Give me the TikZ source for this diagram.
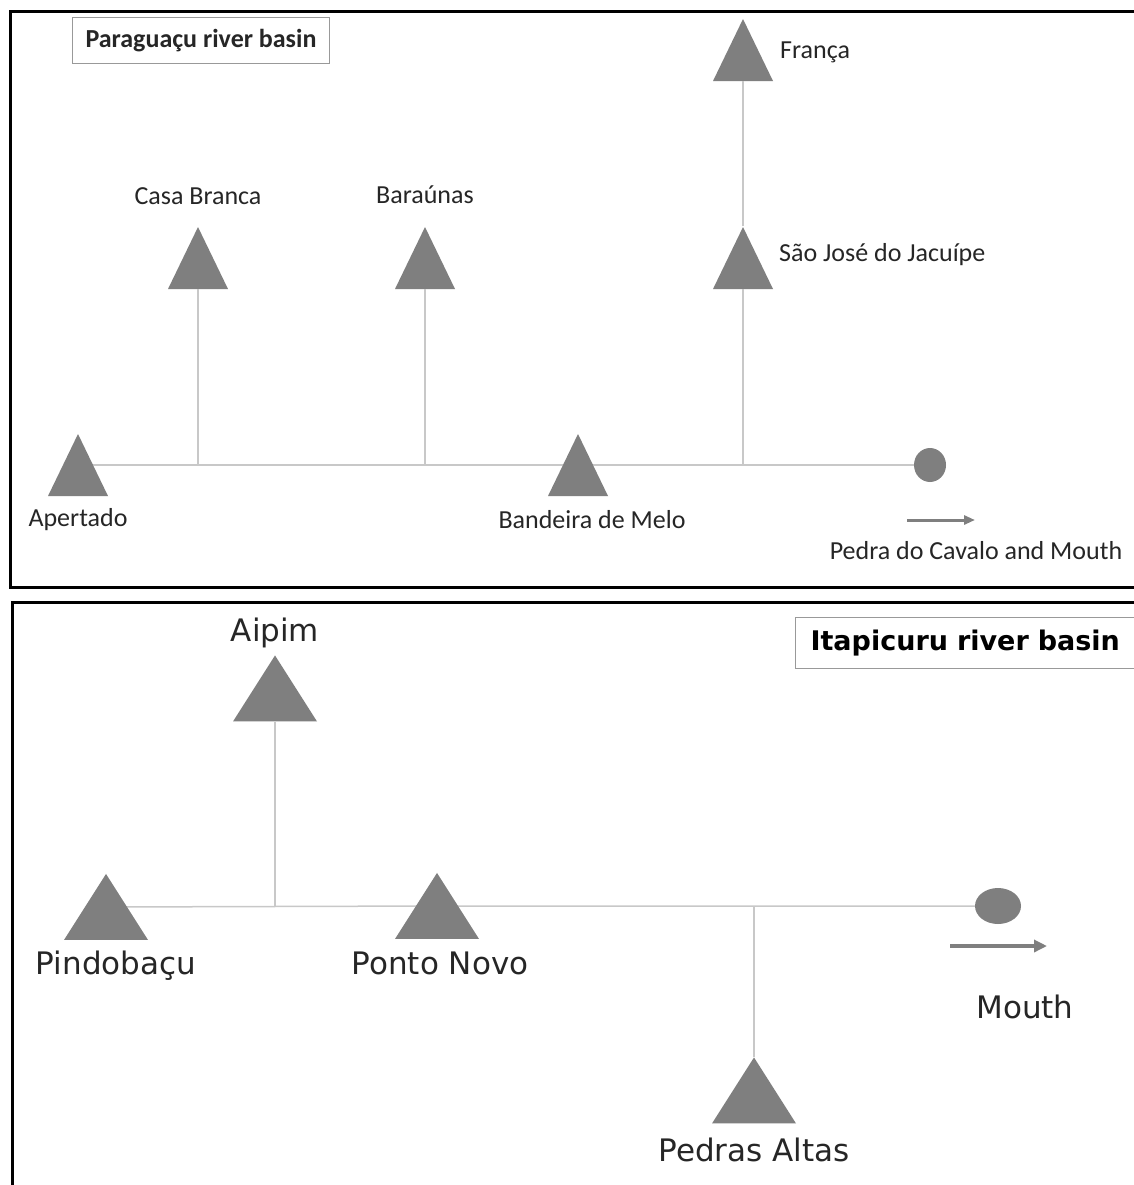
\documentclass[tikz,border=0pt]{standalone}
\usepackage{fontspec}
\setmainfont{Carlito}
\newfontfamily\largefont{DejaVu Sans}
\usetikzlibrary{shapes.geometric,arrows.meta,backgrounds}
\definecolor{gris}{RGB}{127,127,127}
\definecolor{grisclair}{RGB}{200,200,200}

\begin{document}
\begin{tikzpicture}[x=1pt,y=-1pt]
\tikzset{station/.style={isosceles triangle, isosceles triangle stretches, shape border rotate=90, fill=gris, inner sep=0, minimum width=60, minimum height=62},
grandestation/.style={station, minimum width=84, minimum height=66},
exutoire/.style={ellipse, fill=gris, inner sep=0},
riviere/.style={draw=grisclair, line width=1.5},
cadre/.style={draw=black, line width=3},
texte/.style={inner sep=0, text=black!85, font=\fontsize{26}{30}\selectfont},
grandtexte/.style={inner sep=0, text=black!85, font=\largefont\fontsize{31}{36}\selectfont},
titre/.style={draw=gris!80, line width=1, fill=white}}
\clip (0,0) rectangle (1134,1185);
% Paraguacu
\draw[cadre] (1150,12) -- (10,12) -- (10,587) -- (1150,587);
\node[titre, texte, minimum width=257, minimum height=46] (titreP) at (201,41) {\bfseries Paraguaçu river basin};
% the center of a triangle is 12.2 below the middle of its height
\node[station] (apertado) at (78,477.2) {};
\node[station] (bandeira) at (578,477.2) {};
\node[station] (casa) at (198,270.2) {};
\node[station] (baraunas) at (425,270.2) {};
\node[station] (saojose) at (743,270.2) {};
\node[station] (franca) at (743,62.2) {};
\node[exutoire, minimum width=32, minimum height=34] (mouthP) at (930,465) {};
\coordinate (jCasa) at (198,465);
\coordinate (jBar) at (425,465);
\coordinate (jSJ) at (743,465);
\coordinate (fP1) at (907,520);
\coordinate (fP2) at (975,520);
\begin{pgfonlayer}{background}
\fill[white] (0,0) rectangle (1134,1185);
\draw[riviere] ([yshift=12.2pt]apertado.center) -- ([yshift=12.2pt]bandeira.center) -- (mouthP);
\end{pgfonlayer}
\draw[riviere] (jCasa) -- (casa);
\draw[riviere] (jBar) -- (baraunas);
\draw[riviere] (jSJ) -- (saojose);
\draw[riviere] (saojose) -- (franca);
\draw[gris, line width=3, -{Triangle[length=11,width=9]}] (fP1) -- (fP2);
\node[texte] (lApertado) at (78,520) {Apertado};
\node[texte] (lCasa) at (198,196) {Casa Branca};
\node[texte] (lBar) at (425,195) {Baraúnas};
\node[texte] (lBand) at (592,520) {Bandeira de Melo};
\node[texte, anchor=west] (lFranca) at (780,52) {França};
\node[texte, anchor=west] (lSJ) at (779,255) {São José do Jacuípe};
\node[texte] (lPedra) at (976,551) {Pedra do Cavalo and Mouth};
% Itapicuru
\draw[cadre] (1150,602) -- (12,602) -- (12,1195);
\node[titre, anchor=west, minimum height=51, inner xsep=15, text width=330, align=left, font=\largefont\fontsize{27}{32}\selectfont\bfseries] (titreI) at (795,643) {Itapicuru river basin};
% here the shift is 9.9
\node[grandestation] (pindo) at (106,916.9) {};
\node[grandestation] (ponto) at (437,915.9) {};
\node[grandestation] (aipim) at (275,698.4) {};
\node[grandestation] (pedras) at (754,1100.4) {};
\node[exutoire, minimum width=46, minimum height=36] (mouthI) at (998,906) {};
\coordinate (jAipim) at (275,906);
\coordinate (jPedras) at (754,906);
\coordinate (fI1) at (950,946);
\coordinate (fI2) at (1047,946);
\begin{pgfonlayer}{background}
\draw[riviere] ([yshift=9.9pt]pindo.center) -- ([yshift=9.9pt]ponto.center) -- (mouthI);
\end{pgfonlayer}
\draw[riviere] (jAipim) -- (aipim);
\draw[riviere] (jPedras) -- (pedras);
\draw[gris, line width=3.5, -{Triangle[length=13,width=12]}] (fI1) -- (fI2);
\node[grandtexte] (lPindo) at (116,966) {Pindobaçu};
\node[grandtexte] (lAipim) at (275,633) {Aipim};
\node[grandtexte] (lPonto) at (440,963) {Ponto Novo};
\node[grandtexte] (lPedras) at (754,1150) {Pedras Altas};
\node[grandtexte] (lMouth) at (1025,1007) {Mouth};
\end{tikzpicture}
\end{document}
